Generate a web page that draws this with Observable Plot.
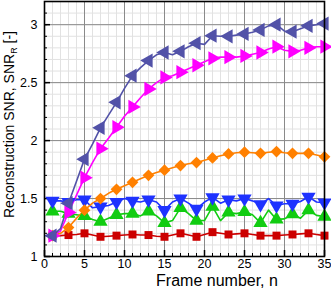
<!DOCTYPE html>
<html><head><meta charset="utf-8">
<script src="https://cdn.jsdelivr.net/npm/d3@7"></script>
<script src="https://cdn.jsdelivr.net/npm/@observablehq/plot@0.6"></script>
<style>
body{margin:0;background:#fff;}
#chart svg{display:block;font-family:"Liberation Sans",Arial,sans-serif;}
</style>
</head><body><div id="chart"></div>
<script>
const frames = d3.range(1, 36);
const xTicks = [0, 5, 10, 15, 20, 25, 30, 35];
const yTicks = [1, 1.5, 2, 2.5, 3];

const snrRed = [1.18,1.18,1.185,1.19,1.20,1.185,1.17,1.175,1.18,1.185,1.19,1.185,1.185,1.175,1.17,1.185,1.20,1.185,1.17,1.19,1.21,1.20,1.19,1.195,1.20,1.19,1.18,1.18,1.18,1.185,1.19,1.195,1.20,1.19,1.18];
const snrGreen = [1.39,1.39,1.37,1.36,1.35,1.32,1.30,1.33,1.36,1.37,1.37,1.35,1.39,1.35,1.29,1.31,1.42,1.37,1.31,1.31,1.43,1.31,1.38,1.37,1.385,1.36,1.29,1.40,1.32,1.325,1.365,1.33,1.40,1.355,1.345];
const snrBlue = [1.48,1.48,1.47,1.49,1.49,1.42,1.43,1.44,1.47,1.50,1.48,1.47,1.49,1.47,1.40,1.47,1.50,1.46,1.41,1.47,1.51,1.46,1.49,1.48,1.50,1.48,1.45,1.50,1.44,1.455,1.455,1.475,1.515,1.47,1.465];
const snrOrange = [1.18,1.20,1.25,1.33,1.40,1.46,1.50,1.545,1.58,1.61,1.64,1.67,1.70,1.725,1.745,1.765,1.785,1.80,1.81,1.83,1.85,1.87,1.885,1.895,1.90,1.895,1.89,1.90,1.905,1.895,1.89,1.89,1.89,1.875,1.86];
const snrMagenta = [1.18,1.22,1.38,1.53,1.68,1.81,1.93,2.02,2.115,2.21,2.29,2.37,2.445,2.50,2.545,2.56,2.59,2.62,2.65,2.68,2.71,2.72,2.72,2.72,2.73,2.745,2.76,2.79,2.81,2.78,2.77,2.78,2.80,2.81,2.81];
const snrPurple = [1.18,1.24,1.46,1.65,1.84,1.97,2.11,2.22,2.33,2.45,2.56,2.63,2.69,2.74,2.76,2.74,2.77,2.81,2.84,2.83,2.905,2.90,2.90,2.91,2.92,2.935,2.955,2.99,3.00,2.945,2.94,2.965,2.99,3.00,3.01];

const series = [
  {values: snrRed, color: "#cc0000", symbol: "square", rotate: 0, r: 4.5},
  {values: snrGreen, color: "#11cc11", symbol: "triangle", rotate: 0, r: 5.3},
  {values: snrBlue, color: "#1e32ff", symbol: "triangle", rotate: 180, r: 5.3},
  {values: snrOrange, color: "#ff8000", symbol: "diamond2", rotate: 0, r: 5.3},
  {values: snrMagenta, color: "#ff00ff", symbol: "triangle", rotate: 90, r: 5.3},
  {values: snrPurple, color: "#5252a8", symbol: "triangle", rotate: -90, r: 5.3}
];

const W = 331, H = 291, mL = 44, mR = 7, mT = 1, mB = 35;
const plotW = W - mL - mR, plotH = H - mT - mB;

const marks = [
  Plot.ruleX(d3.range(0, 36, 1), {stroke: "#e2e2e2", strokeWidth: 1}),
  Plot.ruleY(d3.range(1, 3.21, 0.1), {stroke: "#e2e2e2", strokeWidth: 1}),
  Plot.ruleX(xTicks, {stroke: "#8a8a8a", strokeWidth: 1}),
  Plot.ruleY(yTicks, {stroke: "#8a8a8a", strokeWidth: 1}),
  Plot.tickX(d3.range(0, 36, 1), {x: d => d, insetTop: plotH - 3, stroke: "#000"}),
  Plot.tickX(xTicks, {x: d => d, insetTop: plotH - 6, stroke: "#000", strokeWidth: 1.5}),
  Plot.tickY(d3.range(1, 3.21, 0.1), {y: d => d, insetRight: plotW - 3, stroke: "#000"}),
  Plot.tickY(yTicks, {y: d => d, insetRight: plotW - 6, stroke: "#000", strokeWidth: 1.5})
];
for (const s of series) {
  const rows = s.values.map((v, i) => ({n: frames[i], v}));
  marks.push(Plot.line(rows, {x: "n", y: "v", stroke: s.color, strokeWidth: 1.6}));
}
for (const s of series) {
  const rows = s.values.map((v, i) => ({n: frames[i], v})).filter(d => d.n % 2 === 1);
  marks.push(Plot.dot(rows, {x: "n", y: "v", symbol: () => s.symbol, fill: s.color, stroke: "none", r: s.r, rotate: s.rotate}));
}
marks.push(Plot.frame({stroke: "#000", strokeWidth: 1.6}));

const chart = Plot.plot({
  width: W, height: H,
  marginLeft: mL, marginRight: mR, marginTop: mT, marginBottom: mB,
  style: {fontSize: "12.5px", fontFamily: "Liberation Sans, Arial, sans-serif", background: "#fff", color: "#000"},
  x: {domain: [0, 35], ticks: xTicks, tickSize: 0, tickPadding: 3, tickFormat: d => String(d), label: null},
  y: {domain: [1, 3.2], ticks: yTicks, tickSize: 0, tickPadding: 7, tickFormat: d => String(d), label: null},
  symbol: {type: "identity"},
  marks
});
document.getElementById("chart").appendChild(chart);

const svg = d3.select(chart);
svg.append("text")
  .attr("x", 217).attr("y", H - 5)
  .attr("text-anchor", "middle").attr("font-size", 16).attr("fill", "#000")
  .text("Frame number, n");
const yl = svg.append("text")
  .attr("transform", `translate(14,${mT + plotH / 2 - 4}) rotate(-90)`)
  .attr("text-anchor", "middle").attr("font-size", 14).attr("fill", "#000");
yl.append("tspan").text("Reconstruction SNR, SNR");
yl.append("tspan").attr("font-size", 9).attr("dy", 3).text("R");
yl.append("tspan").attr("dy", -3).text(" [-]");
</script>
</body></html>
